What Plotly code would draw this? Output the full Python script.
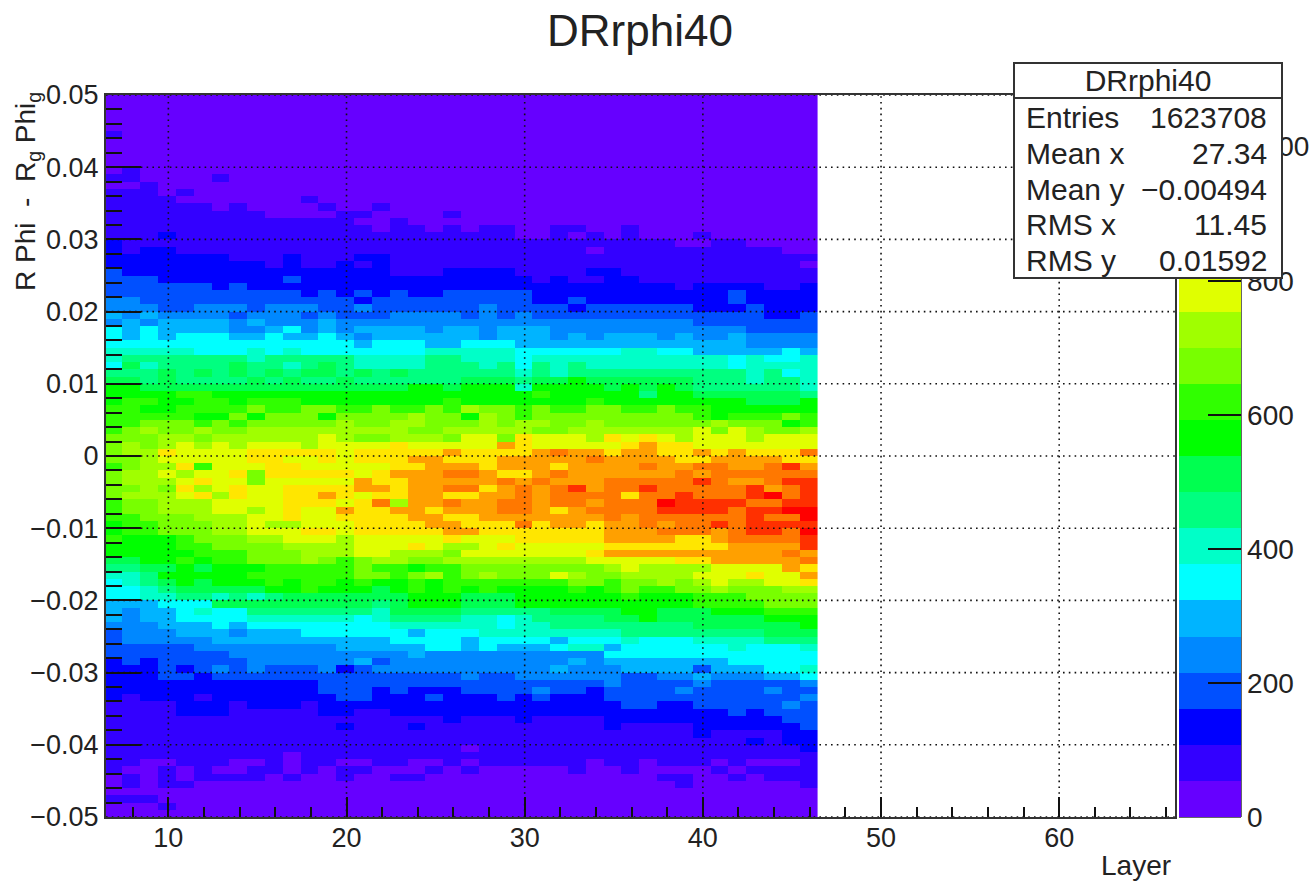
import plotly.graph_objects as go

title = "DRrphi40"
layers = list(range(7, 47))
bin_offset = -0.08
band_width = 53.85
band_colors = ["#6600ff", "#3300ff", "#0000ff", "#0050ff", "#0088ff", "#00b4ff", "#00ffff",
               "#00ffc8", "#00ff80", "#00ff50", "#00ff00", "#30ff00", "#78ff00", "#a0ff00",
               "#e0ff00", "#ffe600", "#ffa000", "#ff7800", "#ff3000", "#ff0000"]
# One string per 0.001 wide y bin, top to bottom; one character per layer: colour band
Z0 = "0000000000 0000000000 0000000000 0000000000"
band_rows = [
Z0, Z0, Z0, Z0, Z0,
"1000000000 0000000000 0000000000 0000000000",
Z0, Z0, Z0, Z0,
"0100000000 0000000000 0000000000 0000000000",
"1100001000 0000000000 0000000000 0000000000",
"0010000000 0000000000 0000000000 0000000000",
"1110100000 0000000000 0000000000 0000000000",
"1111000000 0100000000 0000000000 0000000000",
"1111110100 0010010000 0000000000 0000000000",
"1111111110 0001100001 0000000000 0000000000",
"1111111111 1111001000 0000000000 0000000000",
"1111111111 1111101101 0110011001 0000000000",
"1112111111 1111111111 1110010101 0001000000",
"2111111111 1111111111 1111111111 1100110000",
"2122111111 1111111111 1111111011 1111111100",
"2222222111 2111221111 1111111111 1111111111",
"2222222221 2112121111 1111111111 1111111110",
"3222222222 2222221112 2221111221 1111111111",
"3332222222 3222222222 2222121122 1111111111",
"3333332322 2222222222 2222222222 2212222112",
"3333333333 3232323223 3333222222 2222232222",
"4433333333 3333233333 3333223222 2222232222",
"4443344434 4433433333 3433332333 3332223222",
"5454444344 4343334444 3434333333 3333333223",
"4545555454 4454444444 4444444444 4443333333",
"6565555445 6454555545 5455544444 4444443333",
"6565666556 5565455555 5455545455 5454454444",
"6666666666 6666566655 6665555555 5555554444",
"7777766676 7666666677 7776666667 7665555565",
"7888888878 8888777788 7776777777 7777767667",
"6978888988 7898777788 8786878777 7777767777",
"8889898989 8998989888 8887878888 8888887867",
"9989888898 9889888888 999899a999 9998887887",
"aa99999999 9999999aa9 aaa7aaaa9a 9a98888887",
"aaaabbaaaa aaaaaaaaaa aaaabaaaaa 8aa9999998",
"abbaabbabb baaaaaaaab aaaaaaabaa aaaaaa999a",
"bbaabbbbcb bccbbcbbcb dccbcbbccb bcbbaaaaaa",
"bbbbbaacac ccaccccdcc adcbcccccc cccbabbbcb",
"bbcccbcbcc cccdccddcc cdcddccdcc ccccdcccab",
"bcdccdccdd dddddddccd ddddccdddd dddecedccd",
"cccddcdddd ddedccdddc eecfeeedfe fedeeedeee",
"cdcdededee edeeeefeee eegfeeeeef gffeeeeeee",
"cddfeeeeff fffefffffg ffffghggfg gffgfgfffh",
"ccdeeeeeff eefefffggf ffggggghgg ggffggggff",
"bcddfbeeef feeeeeffgg gfgggfgggg hgghhgghig",
"cddedeefcf ffffefgggh hgffghgggg gghghhhhhh",
"cdddefeece eeeegffggg gghghggghh hhhihgghii",
"ccdcfdefee ffffggfggh hfghghighh ihhhhhighi",
"cdddefdfee ffgfeffggf fgghghhhhf hhihhhijhi",
"bccdddeeee fffefhdggh gghhghhghh hjiiiihhii",
"bccdddeede feegffggfg gghhgfghhh hiiiihiijj",
"bbcccdddee feeffffggf fggggggghg hhhhhhihhj",
"abbcccdded deeeffffgg fffhfggfgg hghhihiiii",
"abbcccddee effefffffg gfffffffgg ghhhghiihj",
"baaabcccdd eeedeeeeef eeefffffgg ggffghhhhi",
"aaaabbcccc ddddeeefed defeeeeeff fffffggggi",
"aaaaabbbcc cdddeedddc eeeeeeefgg gggggggghg",
"99aababbcc cdcbcddccd dddddddeee eeffgggggh",
"8899a9aaab bbbbcbbabb ccccccccde ddddeeeegf",
"778aaaaabb bbbbccbcdb cdcccedccd dddeeefeeg",
"6789a9aaab abbabaabab bbbbbbccbc cdcdeddeef",
"667899999a abaaa9abab abaaaababc bbccdcccdd",
"6677887878 9999999aaa 999aaaaaab aaabbbcccc",
"5556669999 9999989aaa 999aaaaaaa aaabbbbccc",
"5455676688 8888879999 888889999a a999aaabbb",
"5455666677 7777678888 7767888899 a999999aaa",
"4445556566 6666667777 7767788888 888999999a",
"3444555455 5666666566 6777777778 8888888999",
"3444445555 5555556666 5666656667 6667777888",
"3333344444 4445555566 5655567756 6666676667",
"3333333444 4444444544 4444444466 6666666666",
"2323333344 4444534444 4444445455 5555566666",
"2223234343 3342344444 4444454445 5553555667",
"2223323333 3333333333 4334444443 3445444556",
"2222222222 2233333333 3333333343 3334333334",
"2222222222 2233323222 3333433233 3343333433",
"2122212222 2223322232 2232322233 3333333334",
"1111222122 2122222222 2222222223 3223333343",
"1111222111 1122112222 2222222222 2222232333",
"1111111111 1111111112 1112111122 2222222233",
"1111111111 1112111211 1111111121 1112222223",
"1111111111 1111111111 1111111111 1112111122",
"1111111111 1111111111 1111111111 1111112122",
"1111111111 1111111111 0111111111 1111111112",
"1111111111 0111111111 1111111111 1111111111",
"1100111001 0110011001 0111111011 0111010001",
"1001010011 0101100010 1000001001 0000101111",
"0101011110 1001001100 0000000000 0110010111",
"0101100000 0000000000 0000000000 0010000001",
Z0,
"1110000000 0000000000 0000000000 0000000000",
"0001000000 0000000000 0000000000 0000000000",
Z0,
]
x_ticks = [10, 20, 30, 40, 50, 60]
y_ticks = [-0.05, -0.04, -0.03, -0.02, -0.01, 0, 0.01, 0.02, 0.03, 0.04, 0.05]
y_labels = ["\u22120.05", "\u22120.04", "\u22120.03", "\u22120.02", "\u22120.01", "0",
            "0.01", "0.02", "0.03", "0.04", "0.05"]
color_ticks = [0, 200, 400, 600, 800, 1000]
stat_names = ["Entries", "Mean x", "Mean y", "RMS x", "RMS y"]
stat_values = ["1623708", "27.34", "\u22120.00494", "11.45", "0.01592"]
stat_rows_px = [117, 153, 190, 225, 260]

W, H = 1310, 886
L, R, T, B = 106, 1175, 95, 817
FONT = "Liberation Sans, Arial, sans-serif"
INK = "#222222"

def px(v):
    return (v - L) / (R - L)

def py(v):
    return (B - v) / (B - T)

y_centres = [0.0495 - 0.001 * i for i in range(100)]
z = []
for row in band_rows:
    cells = row.replace(" ", "")[:40].ljust(40, "0")
    z.append([(int(c, 36) + 0.5) * band_width for c in cells])

scale = []
for i, c in enumerate(band_colors):
    scale += [[i / 20, c], [(i + 1) / 20, c]]

fig = go.Figure(go.Heatmap(
    x=[k + bin_offset for k in layers], y=y_centres, z=z, zmin=0, zmax=20 * band_width,
    colorscale=scale, hoverinfo="skip",
    colorbar=dict(
        x=px(1179), xanchor="left", xpad=0, y=0, yanchor="bottom", ypad=0,
        len=1, lenmode="fraction", thickness=62, thicknessmode="pixels",
        outlinewidth=0, tickmode="array", tickvals=color_ticks,
        ticktext=[str(t) for t in color_ticks],
        ticks="inside", ticklen=33, tickwidth=2, tickcolor="#111111",
        tickfont=dict(family=FONT, size=28, color=INK),
    ),
))

shapes = []
dots = dict(color="#111111", width=1.6, dash="1.6px,4.2px")
for t in x_ticks:
    shapes.append(dict(type="line", xref="x", yref="paper", x0=t, x1=t, y0=0, y1=1,
                       layer="above", line=dots))
for t in y_ticks:
    shapes.append(dict(type="line", xref="paper", yref="y", x0=0, x1=1, y0=t, y1=t,
                       layer="above", line=dots))
# right edge of the colour scale
shapes.append(dict(type="line", xref="paper", yref="paper", x0=px(1241), x1=px(1241), y0=0, y1=1,
                   layer="above", line=dict(color="#333333", width=1.5)))
shapes.append(dict(type="line", xref="paper", yref="paper", x0=px(1179), x1=px(1241), y0=0, y1=0,
                   layer="above", line=dict(color="#333333", width=1.5)))

ann = []
def text(x, y, s, size=27, xanchor="left", **kw):
    ann.append(dict(x=px(x), y=py(y), xref="paper", yref="paper", text=s, showarrow=False,
                    xanchor=xanchor, yanchor="middle", align="left",
                    font=dict(family=FONT, size=size, color=INK), **kw))

text(640, 30, title, size=44, xanchor="center")
text(1136, 866, "Layer", size=28, xanchor="center")
text(27, 192, "R Phi\u00a0\u00a0-\u00a0\u00a0R<sub>g</sub> Phi<sub>g</sub>", size=28, xanchor="center", textangle=-90)

# statistics box, written after the colour bar so that it hides part of it
ann.append(dict(x=px(1013), y=py(62), xref="paper", yref="paper", xanchor="left", yanchor="top",
                text=" ", showarrow=False, width=266, height=213, bgcolor="white",
                bordercolor="#333333", borderwidth=2, borderpad=0))
ann.append(dict(x=px(1013), y=py(62), xref="paper", yref="paper", xanchor="left", yanchor="top",
                text=title, showarrow=False, width=266, height=33, bgcolor="white", valign="middle",
                bordercolor="#333333", borderwidth=2, borderpad=0,
                font=dict(family=FONT, size=30, color=INK)))
for name, value, row_y in zip(stat_names, stat_values, stat_rows_px):
    text(1024, row_y, name, size=30)
    text(1269, row_y, value, size=30, xanchor="right")

axis_common = dict(showgrid=False, zeroline=False, showline=True, mirror=True,
                   linecolor="#333333", linewidth=2, ticks="inside", tickcolor="#111111",
                   tickwidth=2, tickfont=dict(family=FONT, size=27, color=INK))
fig.update_layout(
    width=W, height=H, autosize=False, plot_bgcolor="white", paper_bgcolor="white",
    margin=dict(l=L, r=W - R, t=T, b=H - B, pad=0, autoexpand=False),
    xaxis=dict(range=[6.5, 66.5], tickmode="array", tickvals=x_ticks, ticklabelstandoff=-4,
               ticktext=[str(t) for t in x_ticks], ticklen=20,
               minor=dict(dtick=2, tick0=0, ticks="inside", ticklen=10, tickwidth=2,
                          tickcolor="#111111", showgrid=False), **axis_common),
    yaxis=dict(range=[-0.05, 0.05], tickmode="array", tickvals=y_ticks, ticktext=y_labels,
               ticklen=35,
               minor=dict(dtick=0.002, tick0=0, ticks="inside", ticklen=16, tickwidth=2,
                          tickcolor="#111111", showgrid=False), **axis_common),
    shapes=shapes, annotations=ann, showlegend=False,
)
fig.write_html("out.html", config={"displayModeBar": False},
               post_script="document.body.style.margin='0';document.documentElement.style.overflow='hidden';")
